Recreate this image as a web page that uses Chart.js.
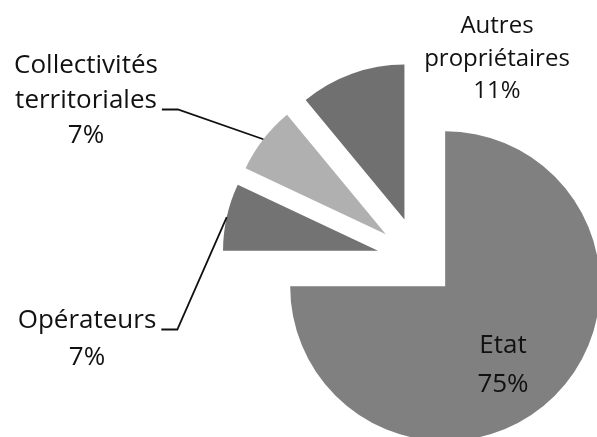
<!DOCTYPE html>
<html>
<head>
<meta charset="utf-8">
<script src="https://cdn.jsdelivr.net/npm/chart.js@4.4.1/dist/chart.umd.min.js"></script>
<style>
  html, body { margin: 0; padding: 0; background: #fff; overflow: hidden; }
  #wrap { position: absolute; left: 0; top: 0; width: 838px; height: 520px; }
</style>
</head>
<body>
<div id="wrap"><canvas id="myChart" width="838" height="520"></canvas></div>
<script>
// Chart data
const categories = ['Etat', 'Opérateurs', ['Collectivités', 'territoriales'], ['Autres', 'propriétaires']];
const shares = [75, 7, 7, 11];

// Look of the slices and labels
const sliceColors = ['#808080', '#737373', '#b0b0b0', '#707070'];
const explode = [37, 42, 42, 43];
const labelPlace = [
    { x: 503, y: 353, lh: 39, leader: false, size: 26 },
    { x: 87, y: 328, lh: 37, leader: true, size: 26 },
    { x: 86, y: 73, lh: 35, leader: true, size: 26 },
    { x: 497, y: 33, lh: 32.5, leader: false, size: 24 }
];

// Draw each slice pushed out along its middle angle
const explodePlugin = {
    id: 'explode',
    beforeDatasetDraw(chart, args) {
        const ctx = chart.ctx;
        args.meta.data.forEach(function (arc, i) {
            const mid = (arc.startAngle + arc.endAngle) / 2;
            ctx.save();
            ctx.translate(Math.cos(mid) * explode[i], Math.sin(mid) * explode[i]);
            arc.draw(ctx);
            ctx.restore();
        });
        return false;
    }
};

// Text labels and leader lines
const labelPlugin = {
    id: 'sliceLabels',
    afterDatasetsDraw(chart) {
        const ctx = chart.ctx;
        const arcs = chart.getDatasetMeta(0).data;
        ctx.save();
        ctx.fillStyle = '#111';
        ctx.textAlign = 'center';
        ctx.textBaseline = 'alphabetic';
        arcs.forEach(function (arc, i) {
            const p = labelPlace[i];
            ctx.font = p.size + 'px "Open Sans"';
            const name = [].concat(chart.data.labels[i]);
            const lines = name.concat([shares[i] + '%']);
            lines.forEach(function (t, k) {
                ctx.fillText(t, p.x, p.y + k * p.lh);
            });
            if (p.leader) {
                const last = name[name.length - 1];
                const ly = p.y + (name.length - 1) * p.lh + 1.5;
                const sx = p.x + ctx.measureText(last).width / 2 + 5;
                const mid = (arc.startAngle + arc.endAngle) / 2;
                const r = arc.outerRadius + explode[i];
                ctx.beginPath();
                ctx.moveTo(sx, ly);
                ctx.lineTo(sx + 16, ly);
                ctx.lineTo(arc.x + Math.cos(mid) * r, arc.y + Math.sin(mid) * r);
                ctx.strokeStyle = '#111';
                ctx.lineWidth = 1.8;
                ctx.stroke();
            }
        });
        ctx.restore();
    }
};

function renderChart() {
    const ctx = document.getElementById('myChart').getContext('2d');
    new Chart(ctx, {
        type: 'pie',
        data: {
            labels: categories,
            datasets: [{
                data: shares,
                backgroundColor: sliceColors,
                borderWidth: 0,
                radius: 155
            }]
        },
        options: {
            responsive: false,
            devicePixelRatio: 1,
            animation: false,
            events: [],
            layout: { padding: 0 },
            plugins: {
                legend: { display: false },
                tooltip: { enabled: false }
            }
        },
        plugins: [explodePlugin, labelPlugin]
    });
}

window.onload = renderChart;
</script>
</body>
</html>
